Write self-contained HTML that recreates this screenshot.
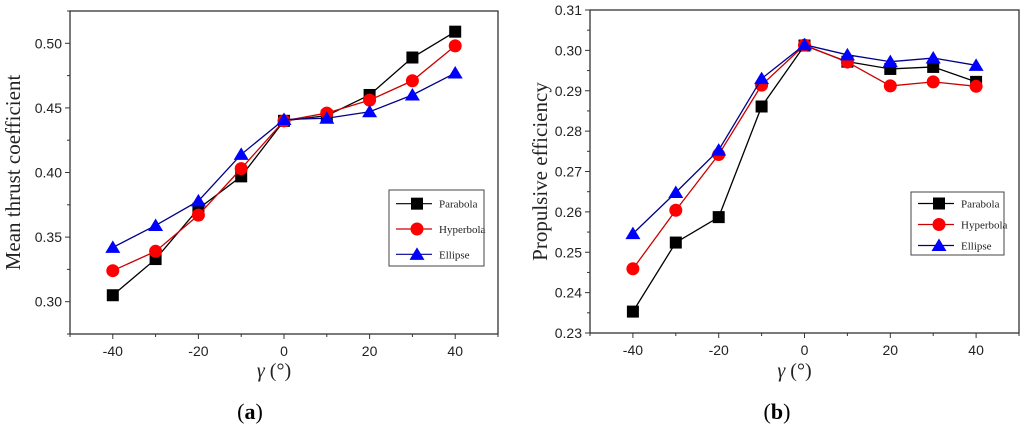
<!DOCTYPE html>
<html><head><meta charset="utf-8"><style>
html,body{margin:0;padding:0;background:#fff;}
svg{display:block;}
</style></head><body>
<svg id="fig" width="1024" height="429" viewBox="0 0 1024 429" xmlns="http://www.w3.org/2000/svg"></svg>
<script>
const xCategories = [-40,-30,-20,-10,0,10,20,30,40];
const xTicks = [-40,-20,0,20,40];
const thrustParabola  = [0.305,0.333,0.372,0.397,0.440,0.444,0.460,0.489,0.509];
const thrustHyperbola = [0.324,0.339,0.367,0.403,0.440,0.446,0.456,0.471,0.498];
const thrustEllipse   = [0.342,0.359,0.378,0.414,0.441,0.442,0.447,0.460,0.477];
const thrustTicks = ["0.30","0.35","0.40","0.45","0.50"];
const effParabola  = [0.2353,0.2524,0.2587,0.2861,0.3012,0.2972,0.2954,0.2959,0.2922];
const effHyperbola = [0.2459,0.2604,0.2742,0.2914,0.3013,0.2971,0.2912,0.2922,0.2911];
const effEllipse   = [0.2546,0.2648,0.2753,0.2930,0.3014,0.2989,0.2972,0.2981,0.2963];
const effTicks = ["0.23","0.24","0.25","0.26","0.27","0.28","0.29","0.30","0.31"];
const seriesNames = ["Parabola","Hyperbola","Ellipse"];

const NS="http://www.w3.org/2000/svg";
const svg=document.getElementById('fig');
function mk(tag,attrs,parent){const e=document.createElementNS(NS,tag);for(const k in attrs)e.setAttribute(k,attrs[k]);(parent||svg).appendChild(e);return e;}

const lineColors=["#000","#c00","#00008b"];
const markColors=["#000","#f00","#00f"];

function marker(g,kind,x,y){
  let m;
  if(kind===0){m=mk('rect',{x:x-6,y:y-6,width:12,height:12,fill:markColors[0]},g);}
  else if(kind===1){m=mk('circle',{cx:x,cy:y,r:6.5,fill:markColors[1]},g);}
  else {m=mk('polygon',{points:`${x},${y-7} ${x+7.5},${y+5.5} ${x-7.5},${y+5.5}`,fill:markColors[2]},g);}
  
  
}

function chart(opt){
  const g=mk('g',{});
  
  
  const L=opt.L,R=opt.R,T=opt.T,B=opt.B;
  const xs=v=>L+(v-(-50))/100*(R-L);
  const ys=v=>B-(v-opt.ymin)/(opt.ymax-opt.ymin)*(B-T);
  const frame=mk('rect',{x:L,y:T,width:R-L,height:B-T,fill:'none',stroke:'#333','stroke-width':1.3},g);
  
  for(let v=-50;v<=50;v+=10){
    const major=xTicks.includes(v);
    mk('line',{x1:xs(v),x2:xs(v),y1:B,y2:B+(major?5:3),stroke:'#333','stroke-width':1},g);
  }
  xTicks.forEach(v=>{const t=mk('text',{x:xs(v),y:B+22,'text-anchor':'middle','font-size':14,'font-family':'Liberation Sans, sans-serif',fill:'#222'},g);t.textContent=v;
    });
  const ticks=opt.ticks.map(Number);
  const step=ticks[1]-ticks[0];
  for(let v=opt.ymin;v<=opt.ymax+1e-9;v+=step/2){
    const major=ticks.some(t=>Math.abs(t-v)<1e-9);
    mk('line',{x1:L,x2:L-(major?5:3),y1:ys(v),y2:ys(v),stroke:'#333','stroke-width':1},g);
  }
  opt.ticks.forEach(s=>{const t=mk('text',{x:L-8,y:ys(Number(s))+5,'text-anchor':'end','font-size':14,'font-family':'Liberation Sans, sans-serif',fill:'#222'},g);t.textContent=s;
    });
  opt.series.forEach((arr,k)=>{
    const sg=mk('g',{},g);
    
    
    mk('polyline',{points:arr.map((v,i)=>xs(xCategories[i])+','+ys(v)).join(' '),fill:'none',stroke:lineColors[k],'stroke-width':1.3},sg);
    arr.forEach((v,i)=>marker(sg,k,xs(xCategories[i]),ys(v)));
  });
  const lg=mk('g',{},g);
  
  mk('rect',{x:opt.lx,y:opt.ly,width:opt.lw,height:opt.lh,fill:'#fff',stroke:'#444','stroke-width':1},lg);
  seriesNames.forEach((n,k)=>{
    const yy=opt.ly+opt.lh*(k*2+1)/6+1;
    const e=mk('g',{},lg);
    
    mk('line',{x1:opt.lx+7,x2:opt.lx+43,y1:yy,y2:yy,stroke:lineColors[k],'stroke-width':1.2},e);
    marker(e,k,opt.lx+28,yy);
    const t=mk('text',{x:opt.lx+50,y:yy+4,'font-size':11,'font-family':'Liberation Serif, serif',fill:'#222'},e);t.textContent=n;
  });
  const yt=mk('text',{x:0,y:0,transform:`translate(${opt.ytx},${(T+B)/2}) rotate(-90)`,'text-anchor':'middle','font-size':21,'font-family':'Liberation Serif, serif',fill:'#222'},g);
  yt.textContent=opt.ytitle;
  const xt=mk('text',{x:(L+R)/2-10,y:377,'text-anchor':'middle','font-size':20,'font-family':'Liberation Serif, serif',fill:'#222'},g);
  xt.innerHTML='<tspan font-style="italic">γ</tspan> (°)';
  
  const cap=mk('text',{x:opt.capx,y:419,'text-anchor':'middle','font-size':22,'font-family':'Liberation Serif, serif',fill:'#000'},g);
  cap.innerHTML='(<tspan font-weight="bold">'+opt.cap+'</tspan>)';
  
}

chart({name:'thrust-chart',L:70,R:498,T:11,B:334,ymin:0.275,ymax:0.525,ticks:thrustTicks,
  series:[thrustParabola,thrustHyperbola,thrustEllipse],lx:389,ly:190,lw:95,lh:76,
  ytitle:'Mean thrust coefficient',ytx:20,cap:'a',capx:250});
chart({name:'efficiency-chart',L:590,R:1019,T:10,B:333,ymin:0.23,ymax:0.31,ticks:effTicks,
  series:[effParabola,effHyperbola,effEllipse],lx:911,ly:192,lw:93,lh:63,
  ytitle:'Propulsive efficiency',ytx:547,cap:'b',capx:777});
</script>
</body></html>
